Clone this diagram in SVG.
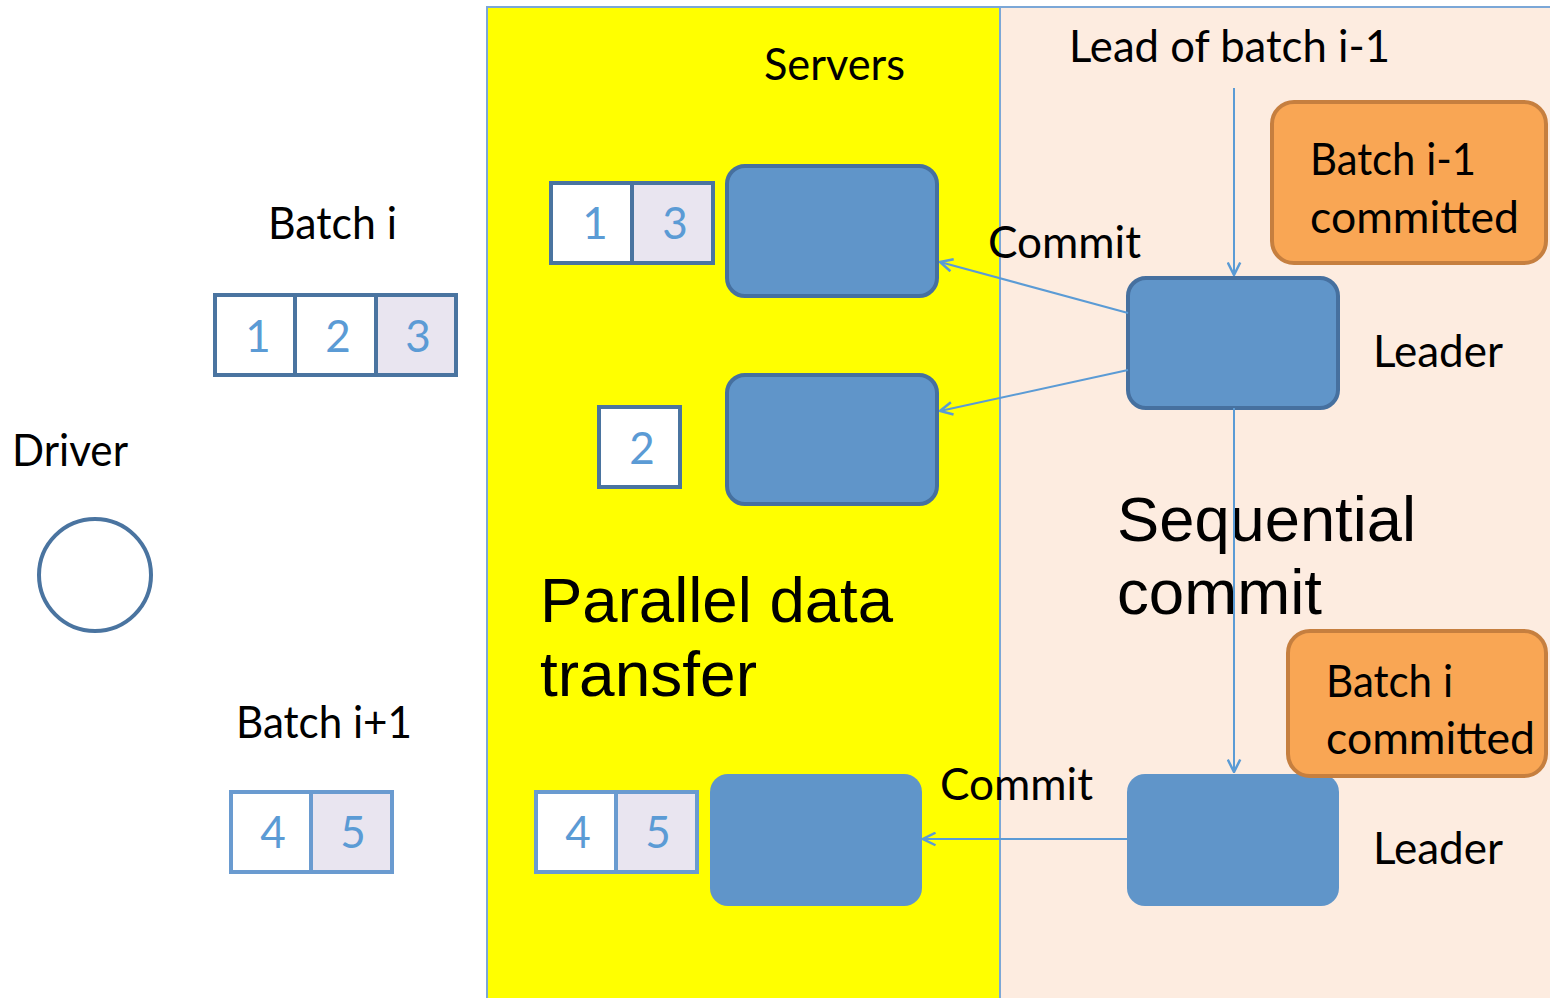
<svg xmlns="http://www.w3.org/2000/svg" width="1550" height="998" viewBox="0 0 1550 998">
  <style>
    .lbl { font-family: Lato, "Open Sans", sans-serif; font-size: 44px; fill: #000; }
    .big { font-family: "Liberation Sans", Arial, sans-serif; font-size: 63px; fill: #000; }
    .dig { font-family: Lato, "Open Sans", sans-serif; font-size: 44px; fill: #5b9bd5; text-anchor: middle; }
    .panel { stroke: #7ba7d7; stroke-width: 2; }
    .srv { fill: #6095c9; stroke: #46709f; stroke-width: 4; }
    .srv-plain { fill: #6095c9; stroke: none; }
    .note { fill: #f9a654; stroke: #c67f3f; stroke-width: 4; }
    .cell { stroke: #4a74a0; stroke-width: 4; }
    .cell-lt { stroke: #6a9bd0; stroke-width: 4; }
    .white { fill: #ffffff; }
    .lav { fill: #e9e5f0; }
    .conn { stroke: #5b9bd5; stroke-width: 2; fill: none; marker-end: url(#open); }
  </style>
  <defs>
    <marker id="open" viewBox="0 0 12 12" refX="11" refY="6" markerWidth="15" markerHeight="15" markerUnits="userSpaceOnUse" orient="auto">
      <path d="M1,1 L11,6 L1,11" fill="none" stroke="#5b9bd5" stroke-width="2"/>
    </marker>
  </defs>

  <rect width="1550" height="998" fill="#ffffff"/>

  <!-- background panels -->
  <g id="panels">
    <rect class="panel" x="1000" y="7" width="552" height="993" fill="#fdece0"/>
    <rect class="panel" x="487" y="7" width="513" height="993" fill="#ffff00"/>
  </g>

  <!-- region titles -->
  <g id="titles">
    <text class="lbl" x="764" y="80" textLength="141" lengthAdjust="spacingAndGlyphs">Servers</text>
    <text class="lbl" x="1069" y="62" textLength="321" lengthAdjust="spacingAndGlyphs">Lead of batch i-1</text>
    <text class="big" x="540" y="622" textLength="353" lengthAdjust="spacingAndGlyphs">Parallel data</text>
    <text class="big" x="540" y="696" textLength="217" lengthAdjust="spacingAndGlyphs">transfer</text>
    <text class="big" x="1117" y="541" textLength="299" lengthAdjust="spacingAndGlyphs">Sequential</text>
    <text class="big" x="1117" y="614" textLength="205" lengthAdjust="spacingAndGlyphs">commit</text>
  </g>

  <!-- driver -->
  <g id="driver">
    <text class="lbl" x="12" y="466" textLength="116" lengthAdjust="spacingAndGlyphs">Driver</text>
    <circle cx="95" cy="575" r="56" fill="#ffffff" stroke="#4a74a0" stroke-width="4"/>
  </g>

  <!-- batch i on the driver -->
  <g id="batch-i">
    <text class="lbl" x="268" y="239" textLength="129" lengthAdjust="spacingAndGlyphs">Batch i</text>
    <rect class="cell white" x="215" y="295" width="80" height="80"/>
    <rect class="cell white" x="295" y="295" width="81" height="80"/>
    <rect class="cell lav" x="376" y="295" width="80" height="80"/>
    <text class="dig" x="258" y="352">1</text>
    <text class="dig" x="338" y="352">2</text>
    <text class="dig" x="418" y="352">3</text>
  </g>

  <!-- batch i+1 on the driver -->
  <g id="batch-i1">
    <text class="lbl" x="236" y="738" textLength="176" lengthAdjust="spacingAndGlyphs">Batch i+1</text>
    <rect class="cell-lt white" x="231" y="792" width="80" height="80"/>
    <rect class="cell-lt lav" x="311" y="792" width="81" height="80"/>
    <text class="dig" x="273" y="848">4</text>
    <text class="dig" x="353" y="848">5</text>
  </g>

  <!-- server 1 with items 1 and 3 -->
  <g id="server-1">
    <rect class="cell white" x="551" y="183" width="81" height="80"/>
    <rect class="cell lav" x="632" y="183" width="81" height="80"/>
    <text class="dig" x="595" y="239">1</text>
    <text class="dig" x="675" y="239">3</text>
    <rect class="srv" x="727" y="166" width="210" height="130" rx="18"/>
  </g>

  <!-- server 2 with item 2 -->
  <g id="server-2">
    <rect class="cell white" x="599" y="407" width="81" height="80"/>
    <text class="dig" x="642" y="464">2</text>
    <rect class="srv" x="727" y="375" width="210" height="129" rx="18"/>
  </g>

  <!-- server 3 with items 4 and 5 -->
  <g id="server-3">
    <rect class="cell-lt white" x="536" y="792" width="80" height="80"/>
    <rect class="cell-lt lav" x="616" y="792" width="81" height="80"/>
    <text class="dig" x="578" y="848">4</text>
    <text class="dig" x="658" y="848">5</text>
    <rect class="srv-plain" x="710" y="774" width="212" height="132" rx="18"/>
  </g>

  <!-- leader of batch i -->
  <g id="leader-1">
    <rect class="srv" x="1128" y="278" width="210" height="130" rx="18"/>
    <text class="lbl" x="1373" y="367" textLength="130" lengthAdjust="spacingAndGlyphs">Leader</text>
  </g>

  <!-- leader of batch i+1 -->
  <g id="leader-2">
    <rect class="srv-plain" x="1127" y="774" width="212" height="132" rx="18"/>
    <text class="lbl" x="1373" y="864" textLength="130" lengthAdjust="spacingAndGlyphs">Leader</text>
  </g>

  <!-- commit notes -->
  <g id="note-prev">
    <rect class="note" x="1272" y="102" width="274" height="161" rx="22"/>
    <text class="lbl" x="1310" y="175" textLength="166" lengthAdjust="spacingAndGlyphs">Batch i-1</text>
    <text class="lbl" x="1310" y="233" textLength="209" lengthAdjust="spacingAndGlyphs">committed</text>
  </g>
  <g id="note-cur">
    <rect class="note" x="1288" y="631" width="258" height="145" rx="22"/>
    <text class="lbl" x="1326" y="697" textLength="127" lengthAdjust="spacingAndGlyphs">Batch i</text>
    <text class="lbl" x="1326" y="754" textLength="209" lengthAdjust="spacingAndGlyphs">committed</text>
  </g>

  <!-- connectors -->
  <g id="connectors">
    <line class="conn" x1="1234" y1="88" x2="1234" y2="275"/>
    <line class="conn" x1="1128" y1="313" x2="940" y2="262"/>
    <line class="conn" x1="1128" y1="370" x2="940" y2="411"/>
    <line class="conn" x1="1234" y1="408" x2="1234" y2="772"/>
    <line class="conn" x1="1127" y1="839" x2="923" y2="839"/>
  </g>

  <!-- connector labels -->
  <g id="connector-labels">
    <text class="lbl" x="988" y="258" textLength="153" lengthAdjust="spacingAndGlyphs">Commit</text>
    <text class="lbl" x="940" y="800" textLength="153" lengthAdjust="spacingAndGlyphs">Commit</text>
  </g>
</svg>
